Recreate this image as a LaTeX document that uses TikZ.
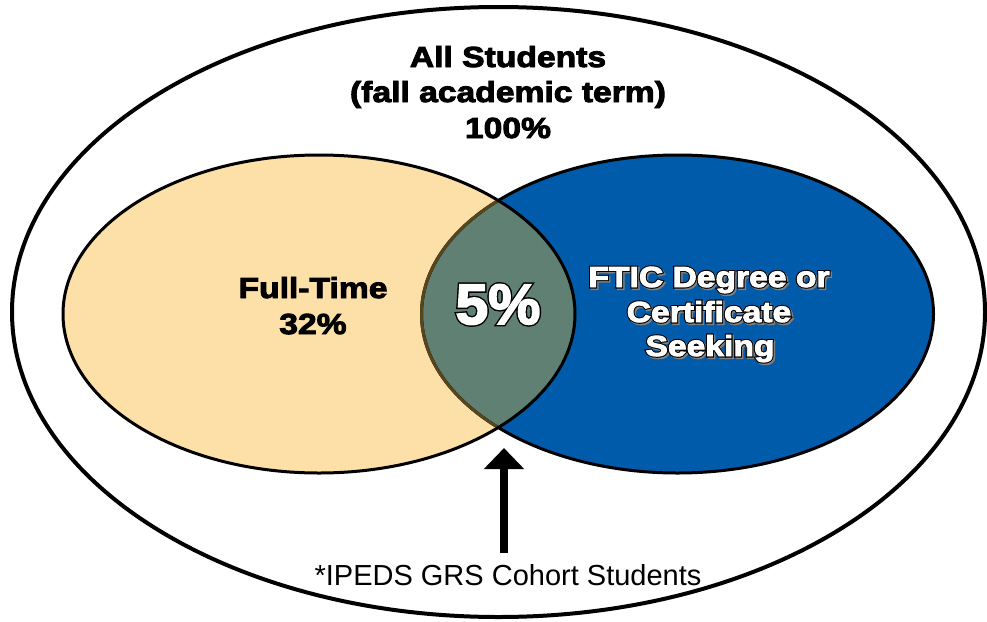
\documentclass[tikz,border=0pt]{standalone}
\usepackage{fontspec}
\setmainfont{Liberation Sans}
\newfontfamily\hvy{Liberation Sans}[FakeStretch=1.16,FakeBold=3.2]
\newfontfamily\hvyline{Liberation Sans}[FakeStretch=1.16,FakeBold=10.5]
\newfontfamily\hvyN{Liberation Sans}[FakeStretch=1.03,FakeBold=3]
\newfontfamily\hvyNline{Liberation Sans}[FakeStretch=1.03,FakeBold=8]
\usetikzlibrary{arrows.meta}
\definecolor{ftyellow}{HTML}{FDE0A7}
\definecolor{ftblue}{HTML}{005BAA}
\definecolor{lensfill}{HTML}{618074}
\definecolor{lensedge}{HTML}{57461C}
\newcommand\oltext[3]{%
  \node[oltxt,text=black!50,font=\fontsize{29}{35}\hvyline\bfseries,xshift=1.5pt,yshift=-1.5pt] (#1s) at (#2) {#3};
  \node[oltxt,text=black,font=\fontsize{29}{35}\hvyline\bfseries] (#1o) at (#2) {#3};
  \node[oltxt,text=white,font=\fontsize{29}{35}\hvy\bfseries] (#1) at (#2) {#3};}
\begin{document}
\begin{tikzpicture}[x=1pt,y=-1pt,
  hdr/.style={anchor=base,inner sep=0pt,font=\fontsize{29}{35}\hvy\bfseries},
  oltxt/.style={anchor=base,inner sep=0pt},
  note/.style={anchor=base,inner sep=0pt,font=\fontsize{29}{35}\selectfont},
  setline/.style={line width=3pt}]
\useasboundingbox (0,0) rectangle (987,621);
% outer ellipse
\draw[line width=4pt,fill=white] (498.5,312) ellipse [x radius=486.5,y radius=305];
% two sets
\fill[ftyellow] (319,314) ellipse [x radius=256,y radius=159];
\fill[ftblue] (677.5,314) ellipse [x radius=256,y radius=159];
\begin{scope}
  \clip (319,314) ellipse [x radius=256,y radius=159];
  \fill[lensfill] (677.5,314) ellipse [x radius=256,y radius=159];
\end{scope}
\draw[setline] (677.5,314) ellipse [x radius=256,y radius=159];
\begin{scope}
  \clip (319,314) ellipse [x radius=256,y radius=159];
  \draw[setline,lensedge] (677.5,314) ellipse [x radius=256,y radius=159];
\end{scope}
\draw[setline] (319,314) ellipse [x radius=256,y radius=159];
% header
\node[hdr] (h1) at (508,67) {All Students};
\node[hdr] (h2) at (508,102) {(fall academic term)};
\node[hdr] (h3) at (508,138) {100\%};
% full-time
\node[hdr] (ft1) at (313,298) {Full-Time};
\node[hdr] (ft2) at (313,334) {32\%};
% FTIC
\oltext{fa}{709,287}{FTIC Degree or}
\oltext{fb}{709,322}{Certificate}
\oltext{fc}{710,356}{Seeking}
% 5%
\node[oltxt,text=black,font=\fontsize{57}{60}\hvyNline\bfseries] (pcto) at (498,324) {5\%};
\node[oltxt,text=white,font=\fontsize{57}{60}\hvyN\bfseries] (pct) at (498,324) {5\%};
% arrow and note
\coordinate (arrowstart) at (504,553);
\coordinate (arrowtip) at (504,448);
\draw[line width=8pt,-{Triangle[width=39pt,length=21pt]}] (arrowstart) -- (arrowtip);
\node[note] (cohort) at (508,585) {*IPEDS GRS Cohort Students};
\end{tikzpicture}
\end{document}
